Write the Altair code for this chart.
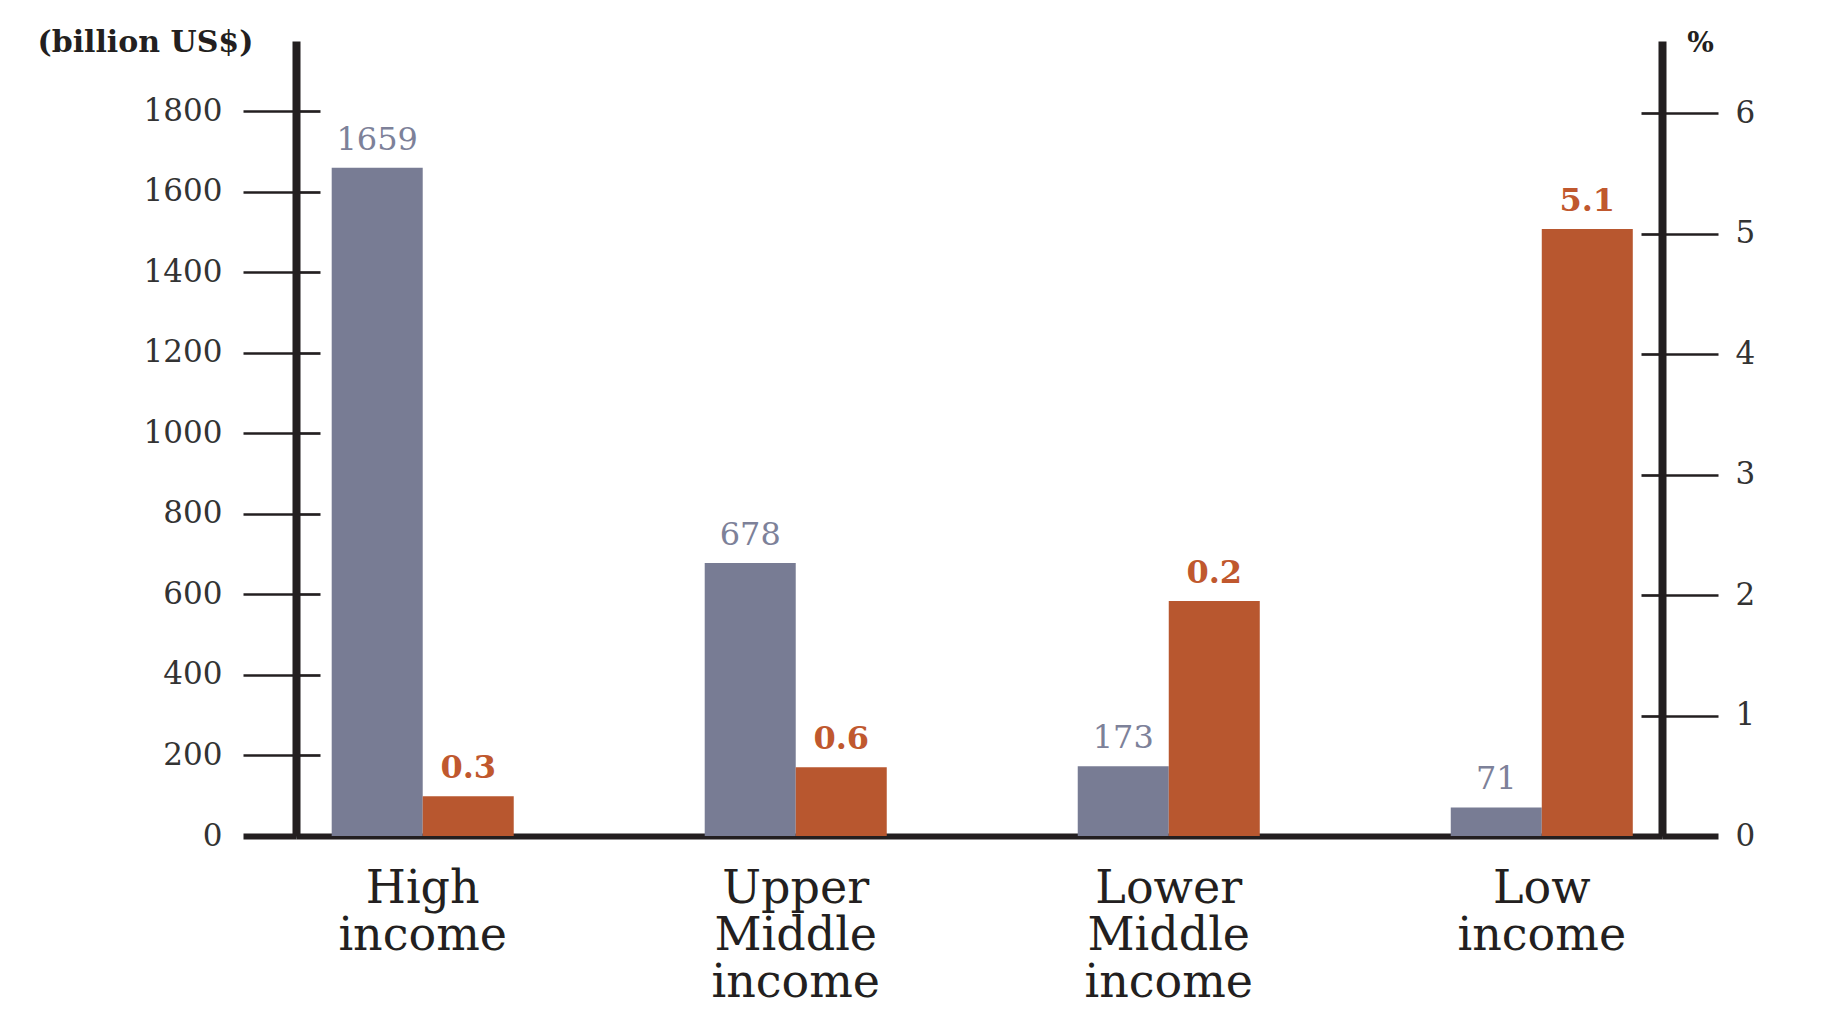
import altair as alt
import pandas as pd

categories = ["High income", "Upper Middle income", "Lower Middle income", "Low income"]
gdp_values = [1659, 678, 173, 71]
gdp_labels = ["1659", "678", "173", "71"]
pct_values = [0.33, 0.57, 1.95, 5.04]
pct_labels = ["0.3", "0.6", "0.2", "5.1"]
left_ticks = [0, 200, 400, 600, 800, 1000, 1200, 1400, 1600, 1800]
right_ticks = [0, 1, 2, 3, 4, 5, 6]

rows = []
for c, v, l in zip(categories, gdp_values, gdp_labels):
    rows.append({"cat": c, "series": "gdp", "value": v, "label": l})
for c, v, l in zip(categories, pct_values, pct_labels):
    rows.append({"cat": c, "series": "pct", "value": v, "label": l})
df = pd.DataFrame(rows)

INK = "#231f20"
GRAY = "#787c94"
ORANGE = "#b8572f"
FONT = "DejaVu Serif"

x_enc = alt.X(
    "cat:N",
    sort=categories,
    scale=alt.Scale(paddingInner=0.512, paddingOuter=0.087, align=0.55),
    axis=alt.Axis(
        title=None,
        labelAngle=0,
        labelExpr="split(datum.label, ' ')",
        labelFont=FONT,
        labelFontSize=46,
        labelLineHeight=47,
        labelColor=INK,
        labelPadding=30,
        ticks=False,
        tickSize=0,
        domainColor=INK,
        domainWidth=6,
        grid=False,
    ),
)
xoff = alt.XOffset("series:N", scale=alt.Scale(domain=["gdp", "pct"], paddingInner=0, paddingOuter=0))

zero_thick = {"condition": {"test": "datum.value === 0", "value": 6}, "value": 2.7}

left_axis = alt.Axis(
    orient="left",
    values=left_ticks,
    format="d",
    title="(billion US$)",
    titleAngle=0,
    titleAlign="left",
    titleBaseline="alphabetic",
    titleX=-259,
    titleY=10,
    titleFont=FONT,
    titleFontSize=30,
    titleFontWeight="bold",
    titleColor=INK,
    labelFont=FONT,
    labelFontSize=31,
    labelColor="#333333",
    labelPadding=21,
    tickSize=53,
    tickColor=INK,
    tickWidth=zero_thick,
    domainColor=INK,
    domainWidth=8,
    grid=True,
    gridColor=INK,
    gridWidth=2.7,
    gridDash=[24, 5000],
    gridOpacity=1,
)

right_axis = alt.Axis(
    orient="right",
    values=right_ticks,
    format="d",
    title="%",
    titleAngle=0,
    titleAlign="center",
    titleBaseline="alphabetic",
    titleX=38,
    titleY=10,
    titleFont=FONT,
    titleFontSize=28,
    titleFontWeight="bold",
    titleColor=INK,
    labelFont=FONT,
    labelFontSize=31,
    labelColor="#333333",
    labelPadding=17,
    tickSize=56,
    tickColor=INK,
    tickWidth=zero_thick,
    domainColor=INK,
    domainWidth=8,
    grid=True,
    gridColor=INK,
    gridWidth=2.7,
    gridDash=[21, 5000],
    gridOpacity=1,
)

gdp_base = alt.Chart(df).transform_filter("datum.series === 'gdp'")
gdp_y = alt.Y("value:Q", scale=alt.Scale(domain=[0, 1974], nice=False, zero=True), axis=left_axis)
gdp_bars = gdp_base.mark_bar(color=GRAY).encode(x=x_enc, xOffset=xoff, y=gdp_y)
gdp_text = gdp_base.mark_text(
    font=FONT, fontSize=32, color="#7d8199", baseline="bottom", dy=-11
).encode(x=x_enc, xOffset=xoff, y=alt.Y("value:Q"), text="label:N")
gdp_layer = alt.layer(gdp_bars, gdp_text)

pct_base = alt.Chart(df).transform_filter("datum.series === 'pct'")
pct_y = alt.Y("value:Q", scale=alt.Scale(domain=[0, 6.6], nice=False, zero=True), axis=right_axis)
pct_bars = pct_base.mark_bar(color=ORANGE).encode(x=x_enc, xOffset=xoff, y=pct_y)
pct_text = pct_base.mark_text(
    font=FONT, fontSize=32, color="#c0582e", fontWeight="bold", baseline="bottom", dy=-11
).encode(x=x_enc, xOffset=xoff, y=alt.Y("value:Q"), text="label:N")
pct_layer = alt.layer(pct_bars, pct_text)

chart = (
    alt.layer(gdp_layer, pct_layer)
    .resolve_scale(y="independent")
    .properties(
        width=1366,
        height=795,
        autosize=alt.AutoSizeParams(type="none"),
        padding={"left": 288, "top": 33, "right": 150, "bottom": 185},
        background="white",
    )
    .configure_view(stroke=None)
)

chart.save("out.html", embed_options={"renderer": "svg", "actions": False})
